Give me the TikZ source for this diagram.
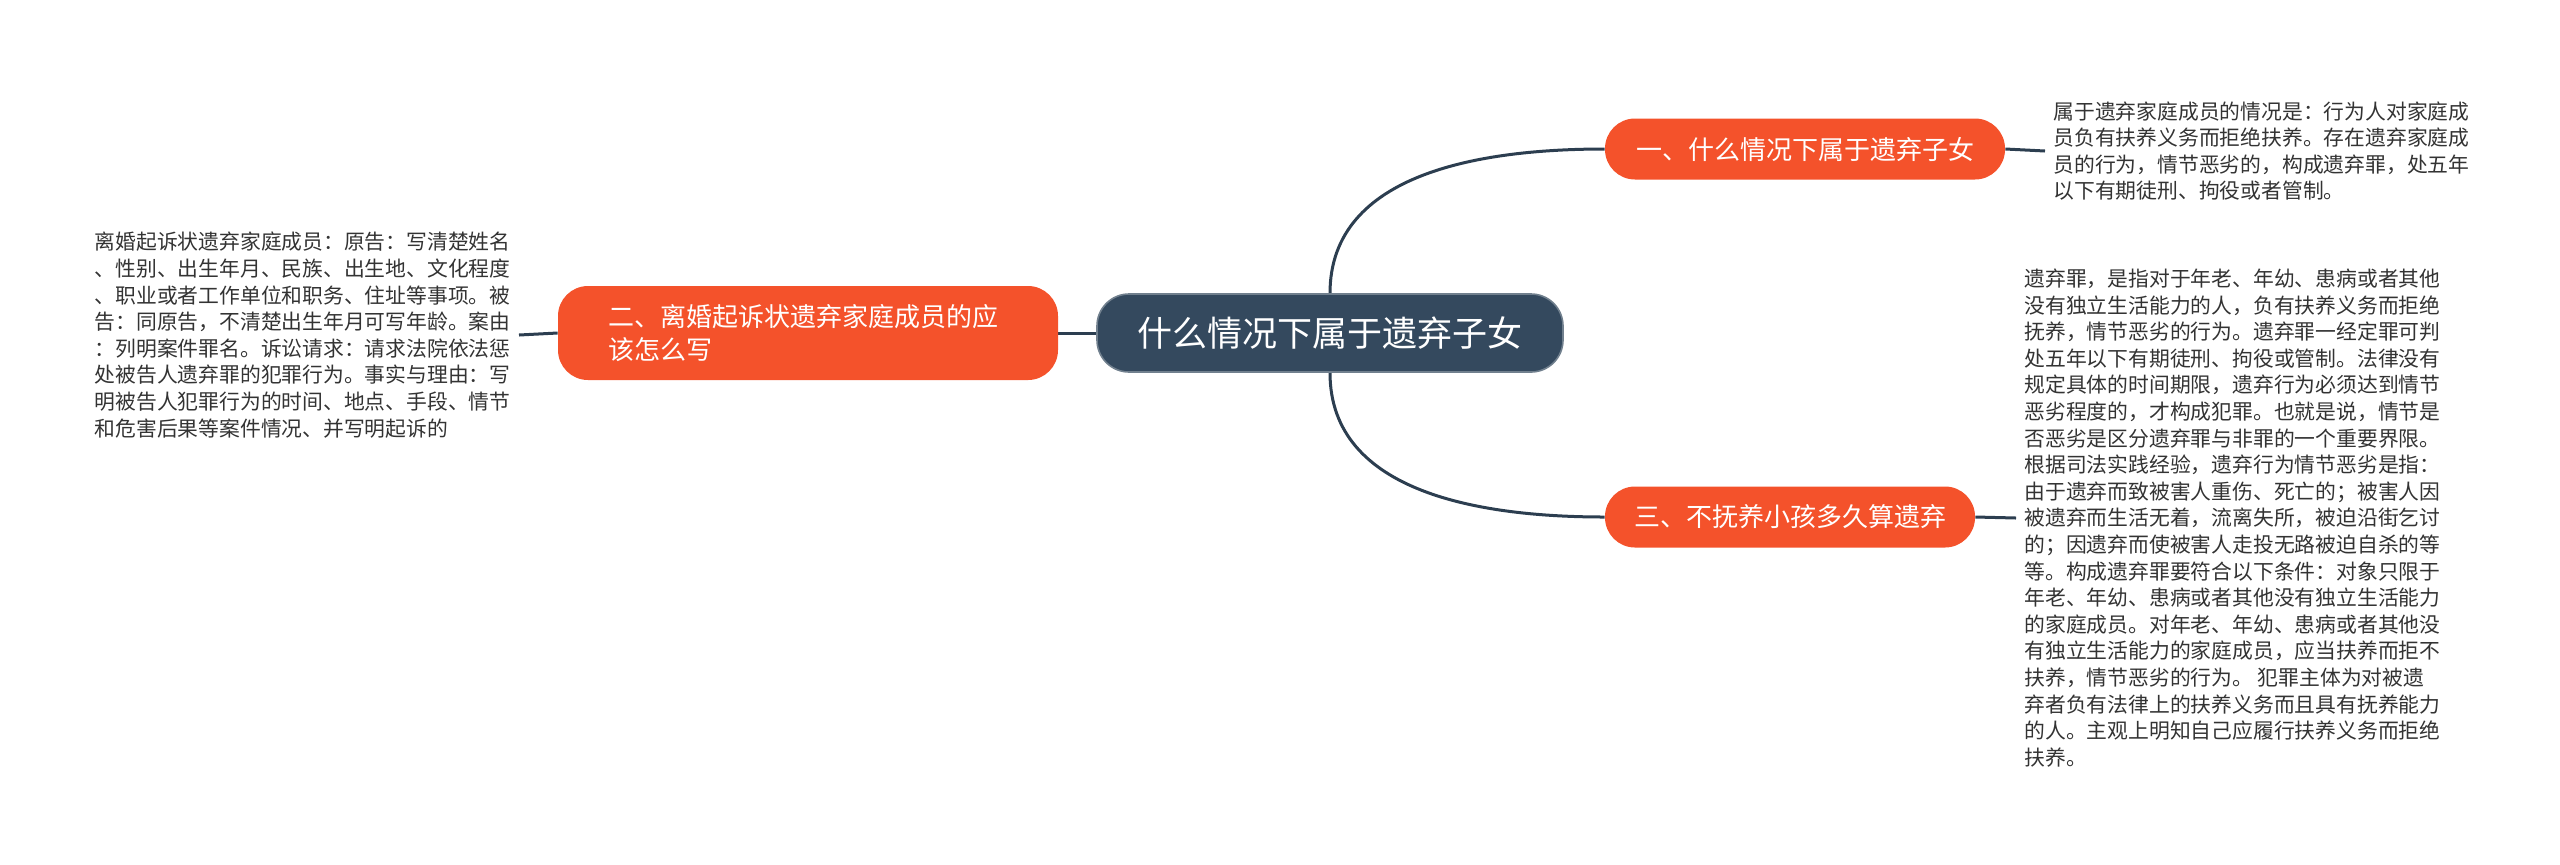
\documentclass[tikz,border=0pt]{standalone}
\usepackage{fontspec}
\setmainfont{Noto Sans CJK SC}
\usetikzlibrary{positioning, backgrounds}
\definecolor{rootfill}{HTML}{34495E}
\definecolor{branchfill}{HTML}{F4522B}
\definecolor{linkcol}{HTML}{2C3E50}
\definecolor{leaftext}{HTML}{333333}

\begin{document}
\begin{tikzpicture}[
  x=0.5pt, y=-0.5pt,
  root/.style={draw=rootfill!70!white, line width=0.8pt, fill=rootfill, text=white,
               rounded corners=16pt, minimum width=233pt, minimum height=39pt,
               font=\fontsize{17.5}{21}\selectfont},
  branch/.style={fill=branchfill, text=white, rounded corners=15pt,
                 minimum height=30.5pt, font=\fontsize{13}{16.5}\selectfont, align=left},
  leaf/.style={text=leaftext, font=\fontsize{10.4}{13.3}\selectfont, align=left,
               inner ysep=0pt, inner xsep=4pt},
  link/.style={draw=linkcol, line width=1.5pt}
]
\useasboundingbox (0,0) rectangle (2560,864);

%--- Root ---
\node[root] (root) at (1330, 333) {什么情况下属于遗弃子女};

%--- Branches ---
\node[branch, minimum width=200pt] (one) at (1805, 149) {一、什么情况下属于遗弃子女};
\node[branch, minimum width=250pt, minimum height=47pt, text width=200pt] (two) at (808, 333)
  {二、离婚起诉状遗弃家庭成员的应\\该怎么写};
\node[branch, minimum width=185pt] (three) at (1790, 517) {三、不抚养小孩多久算遗弃};

%--- Leaves ---
\node[leaf, anchor=west] (onetext) at (2045, 151) {%
属于遗弃家庭成员的情况是：行为人对家庭成\\
员负有扶养义务而拒绝扶养。存在遗弃家庭成\\
员的行为，情节恶劣的，构成遗弃罪，处五年\\
以下有期徒刑、拘役或者管制。};

\node[leaf, anchor=east] (twotext) at (519, 335) {%
离婚起诉状遗弃家庭成员：原告：写清楚姓名\\
、性别、出生年月、民族、出生地、文化程度\\
、职业或者工作单位和职务、住址等事项。被\\
告：同原告，不清楚出生年月可写年龄。案由\\
：列明案件罪名。诉讼请求：请求法院依法惩\\
处被告人遗弃罪的犯罪行为。事实与理由：写\\
明被告人犯罪行为的时间、地点、手段、情节\\
和危害后果等案件情况、并写明起诉的};

\node[leaf, anchor=west] (threetext) at (2016, 518) {%
遗弃罪，是指对于年老、年幼、患病或者其他\\
没有独立生活能力的人，负有扶养义务而拒绝\\
抚养，情节恶劣的行为。遗弃罪一经定罪可判\\
处五年以下有期徒刑、拘役或管制。法律没有\\
规定具体的时间期限，遗弃行为必须达到情节\\
恶劣程度的，才构成犯罪。也就是说，情节是\\
否恶劣是区分遗弃罪与非罪的一个重要界限。\\
根据司法实践经验，遗弃行为情节恶劣是指：\\
由于遗弃而致被害人重伤、死亡的；被害人因\\
被遗弃而生活无着，流离失所，被迫沿街乞讨\\
的；因遗弃而使被害人走投无路被迫自杀的等\\
等。构成遗弃罪要符合以下条件：对象只限于\\
年老、年幼、患病或者其他没有独立生活能力\\
的家庭成员。对年老、年幼、患病或者其他没\\
有独立生活能力的家庭成员，应当扶养而拒不\\
扶养，情节恶劣的行为。 犯罪主体为对被遗\\
弃者负有法律上的扶养义务而且具有抚养能力\\
的人。主观上明知自己应履行扶养义务而拒绝\\
扶养。};

%--- Connectors (behind the nodes) ---
\begin{scope}[on background layer]
\draw[link] (root.west) -- (two.east);
\draw[link] (two.west) -- (twotext.east);
\draw[link] (one.east) -- (onetext.west);
\draw[link] (three.east) -- (threetext.west);
\draw[link] (root.north) to[out=90, in=180] (one.west);
\draw[link] (root.south) to[out=-90, in=180] (three.west);
\end{scope}

\end{tikzpicture}
\end{document}
